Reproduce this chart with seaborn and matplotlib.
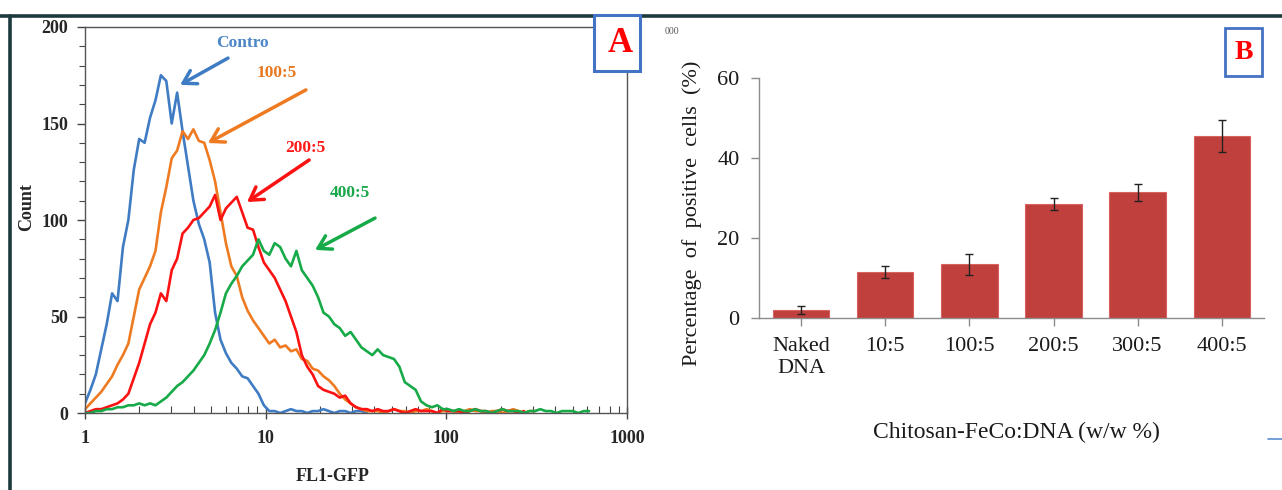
import numpy as np
import pandas as pd
import seaborn as sns
import matplotlib.pyplot as plt
from matplotlib.lines import Line2D
from matplotlib.patches import Rectangle
from matplotlib.ticker import LogLocator, MultipleLocator, NullFormatter

# ---- panel A: flow cytometry histograms (log10 of FL1-GFP channel) ----
fl1_log = [0.00, 0.03, 0.06, 0.09, 0.12, 0.15, 0.18, 0.21, 0.24, 0.27,
           0.30, 0.33, 0.36, 0.39, 0.42, 0.45, 0.48, 0.51, 0.54, 0.57,
           0.60, 0.63, 0.66, 0.69, 0.72, 0.75, 0.78, 0.81, 0.84, 0.87,
           0.90, 0.93, 0.96, 0.99, 1.02, 1.05, 1.08, 1.11, 1.14, 1.17,
           1.20, 1.23, 1.26, 1.29, 1.32, 1.35, 1.38, 1.41, 1.44, 1.47,
           1.50, 1.53, 1.56, 1.59, 1.62, 1.65, 1.68, 1.71, 1.74, 1.77,
           1.80, 1.83, 1.86, 1.89, 1.92, 1.95, 1.98, 2.01, 2.04, 2.07,
           2.10, 2.13, 2.16, 2.19, 2.22, 2.25, 2.28, 2.31, 2.34, 2.37,
           2.40, 2.43, 2.46, 2.49, 2.52, 2.55, 2.58, 2.61, 2.64, 2.67,
           2.70, 2.73, 2.76, 2.79]

contro = [5, 12, 20, 33, 46, 62, 58, 86, 100, 126,
          142, 140, 153, 162, 175, 172, 150, 166, 146, 128,
          110, 98, 90, 78, 52, 38, 31, 26, 23, 19,
          18, 14, 10, 4, 1, 1, 0, 1, 2, 1,
          1, 0, 1, 1, 2, 1, 0, 1, 1, 0,
          1, 1, 0]

ratio_100 = [2, 5, 8, 11, 15, 19, 25, 30, 36, 50,
             64, 70, 76, 84, 104, 117, 132, 136, 146, 142,
             147, 141, 140, 131, 120, 104, 88, 76, 71, 60,
             53, 48, 44, 40, 36, 38, 34, 35, 32, 33,
             28, 27, 23, 22, 19, 17, 14, 10, 7, 5,
             3, 2, 1, 1, 1, 0, 1, 2, 1, 1,
             0, 1, 1, 2, 1, 0, 1, 1, 1, 0,
             1, 2, 1, 1, 0, 1, 1, 0, 1, 2,
             1, 0, 1, 1]

ratio_200 = [0, 1, 2, 2, 3, 4, 5, 7, 10, 18,
             26, 36, 46, 52, 62, 58, 74, 80, 93, 96,
             100, 101, 104, 107, 113, 100, 106, 109, 112, 104,
             96, 95, 86, 78, 74, 70, 64, 58, 50, 42,
             30, 24, 20, 14, 12, 11, 10, 8, 9, 5,
             3, 2, 2, 1, 2, 1, 1, 2, 1, 0,
             1, 2, 1, 1, 1, 0, 2, 1, 1, 1,
             0, 1, 2, 1, 1, 0, 1, 2, 1, 1,
             0, 1]

ratio_400 = [0, 0, 1, 1, 2, 2, 3, 3, 4, 4,
             5, 4, 5, 4, 6, 8, 11, 14, 16, 19,
             22, 26, 30, 36, 43, 52, 62, 67, 71, 76,
             79, 82, 90, 84, 82, 88, 86, 80, 76, 84,
             74, 70, 66, 60, 52, 50, 46, 44, 40, 42,
             38, 34, 32, 30, 33, 30, 29, 28, 24, 16,
             14, 12, 6, 4, 3, 4, 2, 2, 1, 2,
             1, 1, 2, 1, 1, 0, 1, 2, 1, 1,
             1, 0, 1, 1, 2, 1, 1, 0, 1, 1,
             1, 0, 1, 1]

hist_labels = ["Contro", "100:5", "200:5", "400:5"]
hist_colors = ["#3f7cc3", "#ee7b22", "#fb1212", "#17aa48"]
text_colors = ["#4a86c8", "#e8781e", "#ff1a1a", "#1aa84a"]

# ---- panel B: percentage of positive cells ----
bar_cats = ["Naked\nDNA", "10:5", "100:5", "200:5", "300:5", "400:5"]
bar_vals = [2.0, 11.4, 13.4, 28.6, 31.4, 45.5]
bar_errs = [1.0, 1.5, 2.7, 1.5, 2.2, 4.1]

sns.set_theme(style="ticks")
plt.rcParams['font.family'] = ['Liberation Serif', 'DejaVu Serif']

fig = plt.figure(figsize=(12.82, 4.90), dpi=100)
ax_a = fig.add_axes([0.0663, 0.1571, 0.4228, 0.7878])
ax_b = fig.add_axes([0.5920, 0.3510, 0.3939, 0.4898])

# histograms
frames = []
for name, vals in zip(hist_labels, [contro, ratio_100, ratio_200, ratio_400]):
    frames.append(pd.DataFrame({
        "fl1": 10 ** np.array(fl1_log[:len(vals)]),
        "count": vals,
        "sample": name,
    }))
hist = pd.concat(frames, ignore_index=True)

sns.lineplot(data=hist, x="fl1", y="count", hue="sample", hue_order=hist_labels,
             palette=hist_colors, estimator=None, sort=False, linewidth=1.9,
             legend=False, ax=ax_a)
ax_a.set_xscale("log")
ax_a.set_xlim(1, 1000)
ax_a.set_ylim(0, 200)
ax_a.set_xticks([1, 10, 100, 1000], ["1", "10", "100", "1000"])
ax_a.xaxis.set_minor_locator(LogLocator(base=10, subs=np.arange(2, 10)))
ax_a.xaxis.set_minor_formatter(NullFormatter())
ax_a.set_yticks([0, 50, 100, 150, 200])
ax_a.yaxis.set_minor_locator(MultipleLocator(10))
ax_a.tick_params(axis="x", which="major", direction="inout", length=8, width=1,
                 color="#444444", labelsize=13, pad=8)
ax_a.tick_params(axis="x", which="minor", direction="in", length=5, width=0.8, color="#444444")
ax_a.tick_params(axis="y", which="major", direction="out", length=6, width=1,
                 color="#444444", labelsize=13, pad=6)
ax_a.tick_params(axis="y", which="minor", direction="out", length=4, width=0.8, color="#444444")
for lab in ax_a.get_xticklabels() + ax_a.get_yticklabels():
    lab.set_fontweight("bold")
for sp in ax_a.spines.values():
    sp.set_color("#555555")
    sp.set_linewidth(1)

ax_a.set_ylabel("Count", fontsize=13, fontweight="bold")
ax_a.yaxis.set_label_coords(-0.092, 0.534)
ax_a.set_xlabel("FL1-GFP", fontsize=13, fontweight="bold")
ax_a.xaxis.set_label_coords(0.456, -0.142)

# arrows and sample labels
notes = [
    ("Contro", (7.39, 191.7), (6.19, 183.9), (3.36, 170.0)),
    ("100:5", (11.55, 176.2), (16.7, 167.4), (4.79, 139.9)),
    ("200:5", (16.5, 137.3), (17.4, 131.1), (7.88, 109.3)),
    ("400:5", (29.3, 114.0), (40.3, 101.0), (18.75, 84.5)),
]
for (name, txt_xy, start, tip), lc, tc in zip(notes, hist_colors, text_colors):
    ax_a.annotate("", xy=tip, xytext=start,
                  arrowprops=dict(arrowstyle="->,head_length=0.75,head_width=0.45",
                                  color=lc, lw=2.5, shrinkA=0, shrinkB=0))
    ax_a.text(txt_xy[0], txt_xy[1], name, color=tc, fontsize=12.5,
              fontweight="bold", ha="center", va="center")

# bar chart
sns.barplot(x=bar_cats, y=bar_vals, color="#c0403e", width=0.67, errorbar=None,
            saturation=1, edgecolor="#d8625e", linewidth=0.8, ax=ax_b)
ax_b.errorbar(range(len(bar_cats)), bar_vals, yerr=bar_errs, fmt="none",
              ecolor="#222222", elinewidth=1, capsize=3, capthick=1)
ax_b.set_xlim(-0.5, 5.5)
ax_b.set_ylim(0, 60)
ax_b.set_yticks([0, 20, 40, 60])
sns.despine(ax=ax_b)
for sp in ("left", "bottom"):
    ax_b.spines[sp].set_color("#8c8c8c")
    ax_b.spines[sp].set_linewidth(1)
ax_b.tick_params(axis="both", colors="#8c8c8c", labelcolor="#1a1a1a",
                 labelsize=16, length=6, width=1, pad=8)
ax_b.set_ylabel("Percentage  of  positive  cells  (%)", fontsize=16, color="#1a1a1a")
ax_b.yaxis.set_label_coords(-0.113, 0.4375)
ax_b.set_xlabel("Chitosan-FeCo:DNA (w/w %)", fontsize=17, color="#1a1a1a")
ax_b.xaxis.set_label_coords(0.509, -0.433)

# panel frames and letters
fig.add_artist(Line2D([0, 1], [0.967, 0.967], color="#1c3a3c", lw=2.6,
                      transform=fig.transFigure))
fig.add_artist(Line2D([0.0078, 0.0078], [0, 0.967], color="#1c3a3c", lw=2.6,
                      transform=fig.transFigure))
fig.add_artist(Rectangle((0.4633, 0.8551), 0.0359, 0.1143, transform=fig.transFigure,
                         facecolor="white", edgecolor="#4472c4", lw=2.2, zorder=5))
fig.text(0.4836, 0.912, "A", color="#ff0000", fontsize=25, fontweight="bold",
         ha="center", va="center", zorder=6)
fig.add_artist(Rectangle((0.9555, 0.8449), 0.0289, 0.098, transform=fig.transFigure,
                         facecolor="white", edgecolor="#4472c4", lw=2.0, zorder=5))
fig.text(0.9704, 0.893, "B", color="#ff0000", fontsize=20, fontweight="bold",
         ha="center", va="center", zorder=6)

# cropped leftovers from the source figure
fig.text(0.524, 0.935, "000", fontsize=7, color="#555555", ha="center", va="center")
fig.add_artist(Line2D([0.989, 1.0], [0.104, 0.104], color="#5b8fd0", lw=1.2,
                      transform=fig.transFigure))

fig.savefig("out.png", dpi=100)
